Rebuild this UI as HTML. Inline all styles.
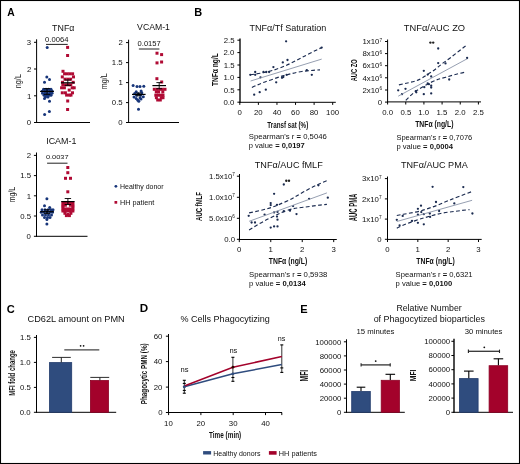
<!DOCTYPE html>
<html><head><meta charset="utf-8"><style>
html,body{margin:0;padding:0;background:#fff;}
body{width:520px;height:464px;overflow:hidden;}
svg{display:block;font-family:"Liberation Sans", sans-serif;will-change:transform;}
</style></head><body>
<svg width="520" height="464" viewBox="0 0 520 464" fill="#111">
<rect x="0" y="0" width="520" height="464" fill="#fff"/>
<text x="7.19" y="16.10" font-size="10.71" textLength="7.43" lengthAdjust="spacingAndGlyphs" font-weight="bold" fill="#000">A</text>
<text x="52.12" y="30.60" font-size="9.57" textLength="22.27" lengthAdjust="spacingAndGlyphs">TNF&#945;</text>
<text x="137.10" y="29.90" font-size="8.86" textLength="32.81" lengthAdjust="spacingAndGlyphs">VCAM-1</text>
<text x="46.21" y="143.90" font-size="9.14" textLength="30.23" lengthAdjust="spacingAndGlyphs">ICAM-1</text>
<line x1="36.6" y1="39.3" x2="36.6" y2="123.0" stroke="#000" stroke-width="1.0"/>
<line x1="34.0" y1="42.3" x2="36.6" y2="42.3" stroke="#000" stroke-width="1.0"/>
<text x="26.84" y="45.03" font-size="7.80">3</text>
<line x1="34.0" y1="69.0" x2="36.6" y2="69.0" stroke="#000" stroke-width="1.0"/>
<text x="27.00" y="71.73" font-size="7.80">2</text>
<line x1="34.0" y1="95.8" x2="36.6" y2="95.8" stroke="#000" stroke-width="1.0"/>
<text x="27.00" y="98.53" font-size="7.80">1</text>
<line x1="34.0" y1="122.5" x2="36.6" y2="122.5" stroke="#000" stroke-width="1.0"/>
<text x="26.84" y="125.23" font-size="7.80">0</text>
<line x1="36.1" y1="122.5" x2="90" y2="122.5" stroke="#000" stroke-width="1.0"/>
<text x="21.00" y="88.34" font-size="9.88" textLength="14.34" lengthAdjust="spacingAndGlyphs" transform="rotate(-90 21.00 88.34)">ng/L</text>
<text x="45.10" y="41.80" font-size="6.43" textLength="23.30" lengthAdjust="spacingAndGlyphs">0.0064</text>
<line x1="46" y1="44.4" x2="67.7" y2="44.4" stroke="#222" stroke-width="1.0"/>
<line x1="128.6" y1="39.7" x2="128.6" y2="123.0" stroke="#000" stroke-width="1.0"/>
<line x1="126.0" y1="42.6" x2="128.6" y2="42.6" stroke="#000" stroke-width="1.0"/>
<text x="118.40" y="45.33" font-size="7.80">2</text>
<line x1="126.0" y1="62.6" x2="128.6" y2="62.6" stroke="#000" stroke-width="1.0"/>
<text x="111.85" y="65.33" font-size="7.80">1.5</text>
<line x1="126.0" y1="82.6" x2="128.6" y2="82.6" stroke="#000" stroke-width="1.0"/>
<text x="118.40" y="85.33" font-size="7.80">1</text>
<line x1="126.0" y1="102.6" x2="128.6" y2="102.6" stroke="#000" stroke-width="1.0"/>
<text x="111.85" y="105.33" font-size="7.80">0.5</text>
<line x1="126.0" y1="122.5" x2="128.6" y2="122.5" stroke="#000" stroke-width="1.0"/>
<text x="118.24" y="125.23" font-size="7.80">0</text>
<line x1="128.1" y1="122.5" x2="179" y2="122.5" stroke="#000" stroke-width="1.0"/>
<text x="106.70" y="89.13" font-size="9.74" textLength="15.84" lengthAdjust="spacingAndGlyphs" transform="rotate(-90 106.70 89.13)">mg/L</text>
<text x="137.60" y="46.40" font-size="6.86" textLength="23.15" lengthAdjust="spacingAndGlyphs">0.0157</text>
<line x1="138.9" y1="49.0" x2="159.4" y2="49.0" stroke="#222" stroke-width="1.0"/>
<line x1="36.5" y1="152.5" x2="36.5" y2="236.8" stroke="#000" stroke-width="1.0"/>
<line x1="33.9" y1="155.4" x2="36.5" y2="155.4" stroke="#000" stroke-width="1.0"/>
<text x="26.70" y="158.13" font-size="7.80">2</text>
<line x1="33.9" y1="175.6" x2="36.5" y2="175.6" stroke="#000" stroke-width="1.0"/>
<text x="20.15" y="178.33" font-size="7.80">1.5</text>
<line x1="33.9" y1="195.8" x2="36.5" y2="195.8" stroke="#000" stroke-width="1.0"/>
<text x="26.70" y="198.53" font-size="7.80">1</text>
<line x1="33.9" y1="216.0" x2="36.5" y2="216.0" stroke="#000" stroke-width="1.0"/>
<text x="20.15" y="218.73" font-size="7.80">0.5</text>
<line x1="33.9" y1="236.3" x2="36.5" y2="236.3" stroke="#000" stroke-width="1.0"/>
<text x="26.54" y="239.03" font-size="7.80">0</text>
<line x1="36.0" y1="236.3" x2="87.5" y2="236.3" stroke="#000" stroke-width="1.0"/>
<text x="14.70" y="202.32" font-size="9.45" textLength="15.42" lengthAdjust="spacingAndGlyphs" transform="rotate(-90 14.70 202.32)">mg/L</text>
<text x="45.90" y="158.60" font-size="6.14" textLength="22.63" lengthAdjust="spacingAndGlyphs">0.0037</text>
<line x1="47.1" y1="163.2" x2="67.5" y2="163.2" stroke="#222" stroke-width="1.0"/>
<circle cx="115.90" cy="186.30" r="1.4" fill="#17357a"/>
<text x="120.04" y="189.20" font-size="7.70" textLength="43.50" lengthAdjust="spacingAndGlyphs">Healthy donor</text>
<rect x="114.50" y="201.00" width="2.70" height="2.70" fill="#b00a34"/>
<text x="120.02" y="205.00" font-size="7.70" textLength="34.21" lengthAdjust="spacingAndGlyphs">HH patient</text>
<circle cx="47.20" cy="47.40" r="1.5" fill="#17357a"/>
<circle cx="46.80" cy="76.90" r="1.5" fill="#17357a"/>
<circle cx="49.50" cy="79.60" r="1.5" fill="#17357a"/>
<circle cx="44.50" cy="82.30" r="1.5" fill="#17357a"/>
<circle cx="44.50" cy="98.50" r="1.5" fill="#17357a"/>
<circle cx="49.50" cy="101.20" r="1.5" fill="#17357a"/>
<circle cx="49.40" cy="111.60" r="1.5" fill="#17357a"/>
<circle cx="44.60" cy="114.50" r="1.5" fill="#17357a"/>
<circle cx="43.50" cy="89.20" r="1.5" fill="#17357a"/>
<circle cx="46.00" cy="89.20" r="1.5" fill="#17357a"/>
<circle cx="48.50" cy="89.20" r="1.5" fill="#17357a"/>
<circle cx="51.00" cy="89.20" r="1.5" fill="#17357a"/>
<circle cx="42.20" cy="91.20" r="1.5" fill="#17357a"/>
<circle cx="44.70" cy="91.20" r="1.5" fill="#17357a"/>
<circle cx="47.20" cy="91.20" r="1.5" fill="#17357a"/>
<circle cx="49.70" cy="91.20" r="1.5" fill="#17357a"/>
<circle cx="52.20" cy="91.20" r="1.5" fill="#17357a"/>
<circle cx="42.50" cy="93.30" r="1.5" fill="#17357a"/>
<circle cx="45.00" cy="93.30" r="1.5" fill="#17357a"/>
<circle cx="47.50" cy="93.30" r="1.5" fill="#17357a"/>
<circle cx="50.00" cy="93.30" r="1.5" fill="#17357a"/>
<circle cx="52.00" cy="93.30" r="1.5" fill="#17357a"/>
<circle cx="44.00" cy="95.30" r="1.5" fill="#17357a"/>
<circle cx="46.50" cy="95.30" r="1.5" fill="#17357a"/>
<circle cx="49.00" cy="95.30" r="1.5" fill="#17357a"/>
<circle cx="51.00" cy="95.30" r="1.5" fill="#17357a"/>
<circle cx="45.50" cy="97.00" r="1.5" fill="#17357a"/>
<circle cx="48.00" cy="97.00" r="1.5" fill="#17357a"/>
<line x1="40.1" y1="91.4" x2="53.9" y2="91.4" stroke="#000" stroke-width="1.2"/>
<line x1="47" y1="88.6" x2="47" y2="94.4" stroke="#000" stroke-width="0.9"/>
<line x1="43.8" y1="88.6" x2="50.2" y2="88.6" stroke="#000" stroke-width="0.9"/>
<line x1="43.8" y1="94.4" x2="50.2" y2="94.4" stroke="#000" stroke-width="0.9"/>
<rect x="66.10" y="45.90" width="3.00" height="3.00" fill="#b00a34"/>
<rect x="66.10" y="54.00" width="3.00" height="3.00" fill="#b00a34"/>
<rect x="61.50" y="69.80" width="3.00" height="3.00" fill="#b00a34"/>
<rect x="66.20" y="99.50" width="3.00" height="3.00" fill="#b00a34"/>
<rect x="66.10" y="108.00" width="3.00" height="3.00" fill="#b00a34"/>
<rect x="63.10" y="72.30" width="3.00" height="3.00" fill="#b00a34"/>
<rect x="65.70" y="72.30" width="3.00" height="3.00" fill="#b00a34"/>
<rect x="68.30" y="72.30" width="3.00" height="3.00" fill="#b00a34"/>
<rect x="71.10" y="72.30" width="3.00" height="3.00" fill="#b00a34"/>
<rect x="60.80" y="75.40" width="3.00" height="3.00" fill="#b00a34"/>
<rect x="72.00" y="75.40" width="3.00" height="3.00" fill="#b00a34"/>
<rect x="63.50" y="77.70" width="3.00" height="3.00" fill="#b00a34"/>
<rect x="66.30" y="77.70" width="3.00" height="3.00" fill="#b00a34"/>
<rect x="69.10" y="77.70" width="3.00" height="3.00" fill="#b00a34"/>
<rect x="61.00" y="80.80" width="3.00" height="3.00" fill="#b00a34"/>
<rect x="71.70" y="80.80" width="3.00" height="3.00" fill="#b00a34"/>
<rect x="61.30" y="83.30" width="3.00" height="3.00" fill="#b00a34"/>
<rect x="64.10" y="83.30" width="3.00" height="3.00" fill="#b00a34"/>
<rect x="66.90" y="83.30" width="3.00" height="3.00" fill="#b00a34"/>
<rect x="69.30" y="83.30" width="3.00" height="3.00" fill="#b00a34"/>
<rect x="60.10" y="86.30" width="3.00" height="3.00" fill="#b00a34"/>
<rect x="62.90" y="86.30" width="3.00" height="3.00" fill="#b00a34"/>
<rect x="70.70" y="86.30" width="3.00" height="3.00" fill="#b00a34"/>
<rect x="72.70" y="86.30" width="3.00" height="3.00" fill="#b00a34"/>
<rect x="67.70" y="88.60" width="3.00" height="3.00" fill="#b00a34"/>
<rect x="60.80" y="91.30" width="3.00" height="3.00" fill="#b00a34"/>
<rect x="63.90" y="91.30" width="3.00" height="3.00" fill="#b00a34"/>
<rect x="71.00" y="91.30" width="3.00" height="3.00" fill="#b00a34"/>
<rect x="65.10" y="93.60" width="3.00" height="3.00" fill="#b00a34"/>
<rect x="67.90" y="93.60" width="3.00" height="3.00" fill="#b00a34"/>
<rect x="69.50" y="93.60" width="3.00" height="3.00" fill="#b00a34"/>
<line x1="60.9" y1="82.8" x2="74.7" y2="82.8" stroke="#000" stroke-width="1.2"/>
<line x1="67.8" y1="80" x2="67.8" y2="85.4" stroke="#000" stroke-width="0.9"/>
<line x1="64.6" y1="80" x2="71.0" y2="80" stroke="#000" stroke-width="0.9"/>
<line x1="64.6" y1="85.4" x2="71.0" y2="85.4" stroke="#000" stroke-width="0.9"/>
<circle cx="133.10" cy="85.40" r="1.5" fill="#17357a"/>
<circle cx="137.00" cy="86.50" r="1.5" fill="#17357a"/>
<circle cx="140.00" cy="86.50" r="1.5" fill="#17357a"/>
<circle cx="143.80" cy="86.20" r="1.5" fill="#17357a"/>
<circle cx="138.50" cy="109.30" r="1.5" fill="#17357a"/>
<circle cx="136.20" cy="91.70" r="1.5" fill="#17357a"/>
<circle cx="141.10" cy="91.00" r="1.5" fill="#17357a"/>
<circle cx="134.70" cy="93.40" r="1.5" fill="#17357a"/>
<circle cx="138.30" cy="93.80" r="1.5" fill="#17357a"/>
<circle cx="141.80" cy="92.70" r="1.5" fill="#17357a"/>
<circle cx="136.50" cy="95.20" r="1.5" fill="#17357a"/>
<circle cx="140.50" cy="95.30" r="1.5" fill="#17357a"/>
<circle cx="134.00" cy="96.90" r="1.5" fill="#17357a"/>
<circle cx="143.30" cy="96.70" r="1.5" fill="#17357a"/>
<circle cx="140.00" cy="98.00" r="1.5" fill="#17357a"/>
<circle cx="136.20" cy="98.60" r="1.5" fill="#17357a"/>
<circle cx="141.00" cy="99.00" r="1.5" fill="#17357a"/>
<circle cx="137.60" cy="100.00" r="1.5" fill="#17357a"/>
<circle cx="138.80" cy="101.20" r="1.5" fill="#17357a"/>
<line x1="132.0" y1="94.4" x2="145.60000000000002" y2="94.4" stroke="#000" stroke-width="1.2"/>
<line x1="138.8" y1="93.0" x2="138.8" y2="95.8" stroke="#000" stroke-width="0.9"/>
<line x1="136.20000000000002" y1="93.0" x2="141.4" y2="93.0" stroke="#000" stroke-width="0.9"/>
<line x1="136.20000000000002" y1="95.8" x2="141.4" y2="95.8" stroke="#000" stroke-width="0.9"/>
<rect x="155.50" y="51.70" width="3.00" height="3.00" fill="#b00a34"/>
<rect x="160.10" y="53.10" width="3.00" height="3.00" fill="#b00a34"/>
<rect x="155.50" y="61.40" width="3.00" height="3.00" fill="#b00a34"/>
<rect x="160.10" y="60.50" width="3.00" height="3.00" fill="#b00a34"/>
<rect x="155.40" y="77.20" width="3.00" height="3.00" fill="#b00a34"/>
<rect x="160.20" y="80.50" width="3.00" height="3.00" fill="#b00a34"/>
<rect x="152.80" y="87.80" width="3.00" height="3.00" fill="#b00a34"/>
<rect x="155.50" y="87.80" width="3.00" height="3.00" fill="#b00a34"/>
<rect x="158.20" y="87.80" width="3.00" height="3.00" fill="#b00a34"/>
<rect x="160.90" y="87.80" width="3.00" height="3.00" fill="#b00a34"/>
<rect x="163.50" y="87.80" width="3.00" height="3.00" fill="#b00a34"/>
<rect x="154.80" y="90.40" width="3.00" height="3.00" fill="#b00a34"/>
<rect x="157.10" y="90.40" width="3.00" height="3.00" fill="#b00a34"/>
<rect x="161.30" y="90.40" width="3.00" height="3.00" fill="#b00a34"/>
<rect x="154.30" y="93.70" width="3.00" height="3.00" fill="#b00a34"/>
<rect x="157.00" y="93.70" width="3.00" height="3.00" fill="#b00a34"/>
<rect x="159.70" y="93.70" width="3.00" height="3.00" fill="#b00a34"/>
<rect x="161.50" y="93.70" width="3.00" height="3.00" fill="#b00a34"/>
<rect x="154.90" y="96.20" width="3.00" height="3.00" fill="#b00a34"/>
<rect x="159.80" y="96.20" width="3.00" height="3.00" fill="#b00a34"/>
<rect x="161.50" y="96.20" width="3.00" height="3.00" fill="#b00a34"/>
<rect x="156.20" y="98.50" width="3.00" height="3.00" fill="#b00a34"/>
<rect x="158.80" y="98.50" width="3.00" height="3.00" fill="#b00a34"/>
<line x1="152.39999999999998" y1="85.6" x2="166.0" y2="85.6" stroke="#000" stroke-width="1.2"/>
<line x1="159.2" y1="82.6" x2="159.2" y2="88.7" stroke="#000" stroke-width="0.9"/>
<line x1="156.39999999999998" y1="82.6" x2="162.0" y2="82.6" stroke="#000" stroke-width="0.9"/>
<line x1="156.39999999999998" y1="88.7" x2="162.0" y2="88.7" stroke="#000" stroke-width="0.9"/>
<circle cx="46.90" cy="198.80" r="1.5" fill="#17357a"/>
<circle cx="44.50" cy="205.80" r="1.5" fill="#17357a"/>
<circle cx="49.70" cy="207.40" r="1.5" fill="#17357a"/>
<circle cx="46.90" cy="219.50" r="1.5" fill="#17357a"/>
<circle cx="46.90" cy="224.00" r="1.5" fill="#17357a"/>
<circle cx="42.00" cy="209.80" r="1.5" fill="#17357a"/>
<circle cx="45.00" cy="209.80" r="1.5" fill="#17357a"/>
<circle cx="48.00" cy="209.80" r="1.5" fill="#17357a"/>
<circle cx="51.00" cy="209.80" r="1.5" fill="#17357a"/>
<circle cx="53.00" cy="209.80" r="1.5" fill="#17357a"/>
<circle cx="41.20" cy="212.30" r="1.5" fill="#17357a"/>
<circle cx="44.00" cy="212.30" r="1.5" fill="#17357a"/>
<circle cx="47.00" cy="212.30" r="1.5" fill="#17357a"/>
<circle cx="50.00" cy="212.30" r="1.5" fill="#17357a"/>
<circle cx="52.50" cy="212.30" r="1.5" fill="#17357a"/>
<circle cx="42.50" cy="215.00" r="1.5" fill="#17357a"/>
<circle cx="45.50" cy="215.00" r="1.5" fill="#17357a"/>
<circle cx="48.50" cy="215.00" r="1.5" fill="#17357a"/>
<circle cx="51.50" cy="215.00" r="1.5" fill="#17357a"/>
<circle cx="44.50" cy="217.40" r="1.5" fill="#17357a"/>
<circle cx="47.50" cy="217.40" r="1.5" fill="#17357a"/>
<circle cx="50.00" cy="217.40" r="1.5" fill="#17357a"/>
<line x1="40.2" y1="211.7" x2="53.8" y2="211.7" stroke="#000" stroke-width="1.2"/>
<line x1="47" y1="209.8" x2="47" y2="213.6" stroke="#000" stroke-width="0.9"/>
<line x1="44" y1="209.8" x2="50" y2="209.8" stroke="#000" stroke-width="0.9"/>
<line x1="44" y1="213.6" x2="50" y2="213.6" stroke="#000" stroke-width="0.9"/>
<rect x="66.30" y="166.00" width="3.00" height="3.00" fill="#b00a34"/>
<rect x="66.30" y="171.20" width="3.00" height="3.00" fill="#b00a34"/>
<rect x="64.00" y="176.80" width="3.00" height="3.00" fill="#b00a34"/>
<rect x="69.00" y="176.80" width="3.00" height="3.00" fill="#b00a34"/>
<rect x="66.30" y="190.30" width="3.00" height="3.00" fill="#b00a34"/>
<rect x="61.40" y="201.50" width="3.00" height="3.00" fill="#b00a34"/>
<rect x="63.90" y="201.50" width="3.00" height="3.00" fill="#b00a34"/>
<rect x="66.40" y="201.50" width="3.00" height="3.00" fill="#b00a34"/>
<rect x="68.90" y="201.50" width="3.00" height="3.00" fill="#b00a34"/>
<rect x="71.40" y="201.50" width="3.00" height="3.00" fill="#b00a34"/>
<rect x="61.40" y="203.70" width="3.00" height="3.00" fill="#b00a34"/>
<rect x="63.90" y="203.70" width="3.00" height="3.00" fill="#b00a34"/>
<rect x="68.90" y="203.70" width="3.00" height="3.00" fill="#b00a34"/>
<rect x="71.40" y="203.70" width="3.00" height="3.00" fill="#b00a34"/>
<rect x="61.40" y="205.30" width="3.00" height="3.00" fill="#b00a34"/>
<rect x="71.40" y="205.30" width="3.00" height="3.00" fill="#b00a34"/>
<rect x="61.40" y="207.50" width="3.00" height="3.00" fill="#b00a34"/>
<rect x="63.90" y="207.50" width="3.00" height="3.00" fill="#b00a34"/>
<rect x="66.40" y="207.50" width="3.00" height="3.00" fill="#b00a34"/>
<rect x="68.90" y="207.50" width="3.00" height="3.00" fill="#b00a34"/>
<rect x="71.40" y="207.50" width="3.00" height="3.00" fill="#b00a34"/>
<rect x="61.40" y="209.50" width="3.00" height="3.00" fill="#b00a34"/>
<rect x="63.90" y="209.50" width="3.00" height="3.00" fill="#b00a34"/>
<rect x="66.40" y="209.50" width="3.00" height="3.00" fill="#b00a34"/>
<rect x="68.90" y="209.50" width="3.00" height="3.00" fill="#b00a34"/>
<rect x="71.40" y="209.50" width="3.00" height="3.00" fill="#b00a34"/>
<rect x="63.40" y="211.80" width="3.00" height="3.00" fill="#b00a34"/>
<rect x="69.40" y="211.80" width="3.00" height="3.00" fill="#b00a34"/>
<rect x="66.40" y="213.00" width="3.00" height="3.00" fill="#b00a34"/>
<rect x="64.90" y="214.10" width="3.00" height="3.00" fill="#b00a34"/>
<rect x="67.90" y="214.10" width="3.00" height="3.00" fill="#b00a34"/>
<line x1="61.2" y1="201.6" x2="74.60000000000001" y2="201.6" stroke="#000" stroke-width="1.2"/>
<line x1="67.9" y1="198.5" x2="67.9" y2="204.5" stroke="#000" stroke-width="0.9"/>
<line x1="64.7" y1="198.5" x2="71.10000000000001" y2="198.5" stroke="#000" stroke-width="0.9"/>
<line x1="64.7" y1="204.5" x2="71.10000000000001" y2="204.5" stroke="#000" stroke-width="0.9"/>
<text x="194.34" y="16.00" font-size="10.71" textLength="7.92" lengthAdjust="spacingAndGlyphs" font-weight="bold" fill="#000">B</text>
<text x="249.62" y="30.70" font-size="9.17" textLength="76.77" lengthAdjust="spacingAndGlyphs">TNF&#945;/Tf Saturation</text>
<text x="403.81" y="31.00" font-size="9.72" textLength="61.33" lengthAdjust="spacingAndGlyphs">TNF&#945;/AUC ZO</text>
<text x="254.82" y="167.70" font-size="9.03" textLength="67.91" lengthAdjust="spacingAndGlyphs">TNF&#945;/AUC fMLF</text>
<text x="401.02" y="167.50" font-size="9.31" textLength="66.75" lengthAdjust="spacingAndGlyphs">TNF&#945;/AUC PMA</text>
<text x="248.74" y="139.30" font-size="7.41" textLength="78.03" lengthAdjust="spacingAndGlyphs">Spearman's r <tspan font-weight="bold">=</tspan> 0,5046</text>
<text x="248.75" y="148.30" font-size="7.41" textLength="55.98" lengthAdjust="spacingAndGlyphs">p value <tspan font-weight="bold">= 0,0197</tspan></text>
<text x="396.45" y="140.00" font-size="7.41" textLength="75.80" lengthAdjust="spacingAndGlyphs">Spearman's r <tspan font-weight="bold">=</tspan> 0,7076</text>
<text x="396.44" y="149.00" font-size="7.41" textLength="56.58" lengthAdjust="spacingAndGlyphs">p value <tspan font-weight="bold">= 0,0004</tspan></text>
<text x="249.04" y="277.20" font-size="7.41" textLength="78.23" lengthAdjust="spacingAndGlyphs">Spearman's r <tspan font-weight="bold">=</tspan> 0,5938</text>
<text x="249.04" y="286.20" font-size="7.41" textLength="56.78" lengthAdjust="spacingAndGlyphs">p value <tspan font-weight="bold">= 0,0134</tspan></text>
<text x="395.64" y="277.20" font-size="7.41" textLength="76.97" lengthAdjust="spacingAndGlyphs">Spearman's r <tspan font-weight="bold">=</tspan> 0,6321</text>
<text x="395.64" y="286.20" font-size="7.41" textLength="56.59" lengthAdjust="spacingAndGlyphs">p value <tspan font-weight="bold">= 0,0100</tspan></text>
<line x1="240.0" y1="38.5" x2="240.0" y2="102.8" stroke="#2a2a2a" stroke-width="1.6"/>
<line x1="237.4" y1="40.2" x2="240.0" y2="40.2" stroke="#000" stroke-width="1.0"/>
<text x="223.65" y="42.93" font-size="7.80">2.5</text>
<line x1="237.4" y1="52.6" x2="240.0" y2="52.6" stroke="#000" stroke-width="1.0"/>
<text x="223.49" y="55.33" font-size="7.80">2.0</text>
<line x1="237.4" y1="65.0" x2="240.0" y2="65.0" stroke="#000" stroke-width="1.0"/>
<text x="223.65" y="67.73" font-size="7.80">1.5</text>
<line x1="237.4" y1="77.4" x2="240.0" y2="77.4" stroke="#000" stroke-width="1.0"/>
<text x="223.49" y="80.13" font-size="7.80">1.0</text>
<line x1="237.4" y1="89.8" x2="240.0" y2="89.8" stroke="#000" stroke-width="1.0"/>
<text x="223.65" y="92.53" font-size="7.80">0.5</text>
<line x1="237.4" y1="102.2" x2="240.0" y2="102.2" stroke="#000" stroke-width="1.0"/>
<text x="223.49" y="104.93" font-size="7.80">0.0</text>
<line x1="239.5" y1="102.3" x2="335.8" y2="102.3" stroke="#000" stroke-width="1.0"/>
<line x1="239.8" y1="102.3" x2="239.8" y2="104.89999999999999" stroke="#000" stroke-width="1.0"/>
<text x="237.62" y="114.83" font-size="7.80">0</text>
<line x1="258.38" y1="102.3" x2="258.38" y2="104.89999999999999" stroke="#000" stroke-width="1.0"/>
<text x="253.93" y="114.83" font-size="7.80">20</text>
<line x1="276.96000000000004" y1="102.3" x2="276.96000000000004" y2="104.89999999999999" stroke="#000" stroke-width="1.0"/>
<text x="272.67" y="114.83" font-size="7.80">40</text>
<line x1="295.54" y1="102.3" x2="295.54" y2="104.89999999999999" stroke="#000" stroke-width="1.0"/>
<text x="291.09" y="114.83" font-size="7.80">60</text>
<line x1="314.12" y1="102.3" x2="314.12" y2="104.89999999999999" stroke="#000" stroke-width="1.0"/>
<text x="309.75" y="114.83" font-size="7.80">80</text>
<line x1="332.7" y1="102.3" x2="332.7" y2="104.89999999999999" stroke="#000" stroke-width="1.0"/>
<text x="326.07" y="114.83" font-size="7.80">100</text>
<text x="267.27" y="127.60" font-size="9.74" textLength="40.98" lengthAdjust="spacingAndGlyphs" font-weight="bold">Transf sat (%)</text>
<text x="218.00" y="86.03" font-size="9.88" textLength="32.81" lengthAdjust="spacingAndGlyphs" transform="rotate(-90 218.00 86.03)" font-weight="bold">TNF&#945; ng/L</text>
<line x1="387.6" y1="39.5" x2="387.6" y2="102.3" stroke="#000" stroke-width="1.0"/>
<line x1="385.0" y1="41.5" x2="387.6" y2="41.5" stroke="#000" stroke-width="1.0"/>
<text x="362.46" y="44.23" font-size="7.80">1x10<tspan style="font-size:0.6em" dy="-0.55em">7</tspan></text>
<line x1="385.0" y1="53.6" x2="387.6" y2="53.6" stroke="#000" stroke-width="1.0"/>
<text x="362.46" y="56.33" font-size="7.80">8x10<tspan style="font-size:0.6em" dy="-0.55em">6</tspan></text>
<line x1="385.0" y1="65.7" x2="387.6" y2="65.7" stroke="#000" stroke-width="1.0"/>
<text x="362.46" y="68.43" font-size="7.80">6x10<tspan style="font-size:0.6em" dy="-0.55em">6</tspan></text>
<line x1="385.0" y1="77.8" x2="387.6" y2="77.8" stroke="#000" stroke-width="1.0"/>
<text x="362.46" y="80.53" font-size="7.80">4x10<tspan style="font-size:0.6em" dy="-0.55em">6</tspan></text>
<line x1="385.0" y1="90.0" x2="387.6" y2="90.0" stroke="#000" stroke-width="1.0"/>
<text x="362.46" y="92.73" font-size="7.80">2x10<tspan style="font-size:0.6em" dy="-0.55em">6</tspan></text>
<line x1="385.0" y1="102.1" x2="387.6" y2="102.1" stroke="#000" stroke-width="1.0"/>
<text x="377.74" y="104.83" font-size="7.80">0</text>
<line x1="387.1" y1="101.9" x2="481" y2="101.9" stroke="#000" stroke-width="1.0"/>
<line x1="387.6" y1="101.9" x2="387.6" y2="104.5" stroke="#000" stroke-width="1.0"/>
<text x="382.14" y="114.83" font-size="7.80">0.0</text>
<line x1="405.76000000000005" y1="101.9" x2="405.76000000000005" y2="104.5" stroke="#000" stroke-width="1.0"/>
<text x="400.38" y="114.83" font-size="7.80">0.5</text>
<line x1="423.92" y1="101.9" x2="423.92" y2="104.5" stroke="#000" stroke-width="1.0"/>
<text x="418.30" y="114.83" font-size="7.80">1.0</text>
<line x1="442.08000000000004" y1="101.9" x2="442.08000000000004" y2="104.5" stroke="#000" stroke-width="1.0"/>
<text x="436.54" y="114.83" font-size="7.80">1.5</text>
<line x1="460.24" y1="101.9" x2="460.24" y2="104.5" stroke="#000" stroke-width="1.0"/>
<text x="454.70" y="114.83" font-size="7.80">2.0</text>
<line x1="478.40000000000003" y1="101.9" x2="478.40000000000003" y2="104.5" stroke="#000" stroke-width="1.0"/>
<text x="472.94" y="114.83" font-size="7.80">2.5</text>
<text x="415.16" y="127.30" font-size="9.45" textLength="38.30" lengthAdjust="spacingAndGlyphs" font-weight="bold">TNF&#945; (ng/L)</text>
<text x="357.00" y="81.31" font-size="9.16" textLength="21.92" lengthAdjust="spacingAndGlyphs" transform="rotate(-90 357.00 81.31)" font-weight="bold">AUC ZO</text>
<line x1="239.5" y1="174" x2="239.5" y2="240.0" stroke="#000" stroke-width="1.0"/>
<line x1="236.9" y1="176.2" x2="239.5" y2="176.2" stroke="#000" stroke-width="1.0"/>
<text x="208.90" y="178.93" font-size="7.80">1.5x10<tspan style="font-size:0.6em" dy="-0.55em">7</tspan></text>
<line x1="236.9" y1="197.3" x2="239.5" y2="197.3" stroke="#000" stroke-width="1.0"/>
<text x="208.90" y="200.03" font-size="7.80">1.0x10<tspan style="font-size:0.6em" dy="-0.55em">7</tspan></text>
<line x1="236.9" y1="218.3" x2="239.5" y2="218.3" stroke="#000" stroke-width="1.0"/>
<text x="208.90" y="221.03" font-size="7.80">5.0x10<tspan style="font-size:0.6em" dy="-0.55em">6</tspan></text>
<line x1="236.9" y1="239.3" x2="239.5" y2="239.3" stroke="#000" stroke-width="1.0"/>
<text x="224.19" y="242.03" font-size="7.80">0.0</text>
<line x1="239.0" y1="239.5" x2="336.8" y2="239.5" stroke="#000" stroke-width="1.0"/>
<line x1="239.3" y1="239.5" x2="239.3" y2="242.1" stroke="#000" stroke-width="1.0"/>
<text x="237.12" y="252.03" font-size="7.80">0</text>
<line x1="270.77" y1="239.5" x2="270.77" y2="242.1" stroke="#000" stroke-width="1.0"/>
<text x="268.51" y="252.03" font-size="7.80">1</text>
<line x1="302.24" y1="239.5" x2="302.24" y2="242.1" stroke="#000" stroke-width="1.0"/>
<text x="300.06" y="252.03" font-size="7.80">2</text>
<line x1="333.71000000000004" y1="239.5" x2="333.71000000000004" y2="242.1" stroke="#000" stroke-width="1.0"/>
<text x="331.53" y="252.03" font-size="7.80">3</text>
<text x="268.86" y="264.30" font-size="9.45" textLength="38.30" lengthAdjust="spacingAndGlyphs" font-weight="bold">TNF&#945; (ng/L)</text>
<text x="201.80" y="220.92" font-size="9.45" textLength="28.81" lengthAdjust="spacingAndGlyphs" transform="rotate(-90 201.80 220.92)" font-weight="bold">AUC fMLF</text>
<line x1="387.5" y1="176.5" x2="387.5" y2="239.9" stroke="#000" stroke-width="1.0"/>
<line x1="384.9" y1="178.6" x2="387.5" y2="178.6" stroke="#000" stroke-width="1.0"/>
<text x="361.96" y="181.33" font-size="7.80">3x10<tspan style="font-size:0.6em" dy="-0.55em">7</tspan></text>
<line x1="384.9" y1="198.9" x2="387.5" y2="198.9" stroke="#000" stroke-width="1.0"/>
<text x="361.96" y="201.63" font-size="7.80">2x10<tspan style="font-size:0.6em" dy="-0.55em">7</tspan></text>
<line x1="384.9" y1="219.1" x2="387.5" y2="219.1" stroke="#000" stroke-width="1.0"/>
<text x="361.96" y="221.83" font-size="7.80">1x10<tspan style="font-size:0.6em" dy="-0.55em">7</tspan></text>
<line x1="384.9" y1="239.3" x2="387.5" y2="239.3" stroke="#000" stroke-width="1.0"/>
<text x="377.24" y="242.03" font-size="7.80">0</text>
<line x1="387.0" y1="239.4" x2="481.7" y2="239.4" stroke="#000" stroke-width="1.0"/>
<line x1="387.5" y1="239.4" x2="387.5" y2="242.0" stroke="#000" stroke-width="1.0"/>
<text x="385.32" y="252.03" font-size="7.80">0</text>
<line x1="417.83" y1="239.4" x2="417.83" y2="242.0" stroke="#000" stroke-width="1.0"/>
<text x="415.57" y="252.03" font-size="7.80">1</text>
<line x1="448.15999999999997" y1="239.4" x2="448.15999999999997" y2="242.0" stroke="#000" stroke-width="1.0"/>
<text x="445.98" y="252.03" font-size="7.80">2</text>
<line x1="478.49" y1="239.4" x2="478.49" y2="242.0" stroke="#000" stroke-width="1.0"/>
<text x="476.31" y="252.03" font-size="7.80">3</text>
<text x="416.36" y="264.30" font-size="9.45" textLength="38.30" lengthAdjust="spacingAndGlyphs" font-weight="bold">TNF&#945; (ng/L)</text>
<text x="357.10" y="221.22" font-size="10.17" textLength="27.58" lengthAdjust="spacingAndGlyphs" transform="rotate(-90 357.10 221.22)" font-weight="bold">AUC PMA</text>
<circle cx="286.10" cy="41.30" r="1.15" fill="#1b2b50"/>
<circle cx="321.70" cy="47.60" r="1.15" fill="#1b2b50"/>
<circle cx="282.80" cy="62.40" r="1.15" fill="#1b2b50"/>
<circle cx="287.50" cy="60.00" r="1.15" fill="#1b2b50"/>
<circle cx="273.40" cy="67.10" r="1.15" fill="#1b2b50"/>
<circle cx="250.30" cy="74.80" r="1.15" fill="#1b2b50"/>
<circle cx="255.20" cy="72.00" r="1.15" fill="#1b2b50"/>
<circle cx="255.20" cy="74.80" r="1.15" fill="#1b2b50"/>
<circle cx="260.50" cy="77.30" r="1.15" fill="#1b2b50"/>
<circle cx="263.50" cy="72.00" r="1.15" fill="#1b2b50"/>
<circle cx="266.30" cy="72.00" r="1.15" fill="#1b2b50"/>
<circle cx="269.10" cy="72.00" r="1.15" fill="#1b2b50"/>
<circle cx="283.30" cy="77.00" r="1.15" fill="#1b2b50"/>
<circle cx="286.60" cy="74.80" r="1.15" fill="#1b2b50"/>
<circle cx="276.20" cy="82.30" r="1.15" fill="#1b2b50"/>
<circle cx="306.80" cy="70.20" r="1.15" fill="#1b2b50"/>
<circle cx="311.80" cy="74.80" r="1.15" fill="#1b2b50"/>
<circle cx="254.20" cy="94.70" r="1.15" fill="#1b2b50"/>
<circle cx="259.70" cy="92.20" r="1.15" fill="#1b2b50"/>
<circle cx="265.80" cy="89.70" r="1.15" fill="#1b2b50"/>
<circle cx="282.00" cy="77.80" r="1.15" fill="#1b2b50"/>
<line x1="250.6" y1="81" x2="321.7" y2="59.1" stroke="#8a94a8" stroke-width="0.9"/>
<path d="M250.3,74.8 C260,73.5 265,72.3 268.8,71.5 S280,68 285.3,65.8 S296,60.5 301.9,57.5 S315,50.5 321.7,47.6" stroke="#1b2b50" stroke-width="1.15" fill="none" stroke-dasharray="3.8,2.4"/>
<path d="M251.9,87.6 C258,84.5 263,82.5 268.8,80.6 S280,76.5 285.3,75.2 S296,72.3 301.9,71.5 S314,70.1 320,69.9" stroke="#1b2b50" stroke-width="1.15" fill="none" stroke-dasharray="3.8,2.4"/>
<circle cx="430.40" cy="42.60" r="1.2" fill="#222"/>
<circle cx="433.20" cy="42.60" r="1.2" fill="#222"/>
<circle cx="438.20" cy="48.50" r="1.15" fill="#1b2b50"/>
<circle cx="467.10" cy="58.00" r="1.15" fill="#1b2b50"/>
<circle cx="438.20" cy="63.10" r="1.15" fill="#1b2b50"/>
<circle cx="445.50" cy="63.40" r="1.15" fill="#1b2b50"/>
<circle cx="423.80" cy="70.80" r="1.15" fill="#1b2b50"/>
<circle cx="427.70" cy="74.60" r="1.15" fill="#1b2b50"/>
<circle cx="431.20" cy="76.50" r="1.15" fill="#1b2b50"/>
<circle cx="449.20" cy="79.50" r="1.15" fill="#1b2b50"/>
<circle cx="398.20" cy="90.30" r="1.15" fill="#1b2b50"/>
<circle cx="405.50" cy="88.80" r="1.15" fill="#1b2b50"/>
<circle cx="402.00" cy="94.20" r="1.15" fill="#1b2b50"/>
<circle cx="415.80" cy="91.10" r="1.15" fill="#1b2b50"/>
<circle cx="416.30" cy="92.30" r="1.15" fill="#1b2b50"/>
<circle cx="424.30" cy="87.20" r="1.15" fill="#1b2b50"/>
<circle cx="427.70" cy="83.40" r="1.15" fill="#1b2b50"/>
<circle cx="428.90" cy="84.20" r="1.15" fill="#1b2b50"/>
<circle cx="431.20" cy="85.70" r="1.15" fill="#1b2b50"/>
<circle cx="431.20" cy="87.50" r="1.15" fill="#1b2b50"/>
<circle cx="423.80" cy="94.20" r="1.15" fill="#1b2b50"/>
<circle cx="431.20" cy="93.40" r="1.15" fill="#1b2b50"/>
<line x1="398.2" y1="96.2" x2="467.1" y2="58.8" stroke="#8a94a8" stroke-width="0.9"/>
<path d="M398.9,84.9 C405,83.5 410,82.5 415.1,81.1 S425,76 430.5,72.6 S440,65 445.8,61.1 S460,50 467.1,44.9" stroke="#1b2b50" stroke-width="1.15" fill="none" stroke-dasharray="3.8,2.4"/>
<path d="M405.8,100.3 C409,97 412,94 415.1,91.8 S425,85.5 430.5,82.6 S440,78.8 445.8,77.2 S458,73.5 465.1,72.2" stroke="#1b2b50" stroke-width="1.15" fill="none" stroke-dasharray="3.8,2.4"/>
<circle cx="286.30" cy="180.70" r="1.2" fill="#222"/>
<circle cx="289.00" cy="180.70" r="1.2" fill="#222"/>
<circle cx="283.80" cy="184.50" r="1.15" fill="#1b2b50"/>
<circle cx="318.40" cy="185.30" r="1.15" fill="#1b2b50"/>
<circle cx="274.10" cy="193.80" r="1.15" fill="#1b2b50"/>
<circle cx="327.80" cy="197.70" r="1.15" fill="#1b2b50"/>
<circle cx="309.10" cy="198.80" r="1.15" fill="#1b2b50"/>
<circle cx="270.70" cy="203.10" r="1.15" fill="#1b2b50"/>
<circle cx="270.70" cy="205.10" r="1.15" fill="#1b2b50"/>
<circle cx="277.00" cy="204.80" r="1.15" fill="#1b2b50"/>
<circle cx="293.10" cy="206.10" r="1.15" fill="#1b2b50"/>
<circle cx="248.70" cy="215.80" r="1.15" fill="#1b2b50"/>
<circle cx="264.60" cy="214.60" r="1.15" fill="#1b2b50"/>
<circle cx="274.10" cy="212.40" r="1.15" fill="#1b2b50"/>
<circle cx="277.50" cy="211.90" r="1.15" fill="#1b2b50"/>
<circle cx="283.80" cy="211.20" r="1.15" fill="#1b2b50"/>
<circle cx="290.00" cy="210.70" r="1.15" fill="#1b2b50"/>
<circle cx="296.50" cy="214.10" r="1.15" fill="#1b2b50"/>
<circle cx="277.00" cy="216.60" r="1.15" fill="#1b2b50"/>
<circle cx="277.50" cy="219.70" r="1.15" fill="#1b2b50"/>
<circle cx="251.60" cy="222.50" r="1.15" fill="#1b2b50"/>
<circle cx="255.00" cy="222.50" r="1.15" fill="#1b2b50"/>
<circle cx="270.70" cy="227.60" r="1.15" fill="#1b2b50"/>
<circle cx="274.10" cy="226.40" r="1.15" fill="#1b2b50"/>
<circle cx="277.50" cy="226.40" r="1.15" fill="#1b2b50"/>
<line x1="249.1" y1="221.3" x2="326.9" y2="192.9" stroke="#8a94a8" stroke-width="0.9"/>
<path d="M249.1,212.9 C256,211.5 263,210 269.4,208.1 S280,204 286.3,201.4 S297,195.5 303.2,192.1 S318,184 326.9,180.7" stroke="#1b2b50" stroke-width="1.15" fill="none" stroke-dasharray="3.8,2.4"/>
<path d="M249.1,230.1 C256,225.5 263,221.5 269.4,218.3 S280,213 286.3,210.7 S297,208 303.2,207.3 S318,205 326.9,204.4" stroke="#1b2b50" stroke-width="1.15" fill="none" stroke-dasharray="3.8,2.4"/>
<circle cx="432.60" cy="186.80" r="1.15" fill="#1b2b50"/>
<circle cx="463.30" cy="187.10" r="1.15" fill="#1b2b50"/>
<circle cx="436.00" cy="202.00" r="1.15" fill="#1b2b50"/>
<circle cx="454.30" cy="203.40" r="1.15" fill="#1b2b50"/>
<circle cx="421.00" cy="205.70" r="1.15" fill="#1b2b50"/>
<circle cx="417.90" cy="208.80" r="1.15" fill="#1b2b50"/>
<circle cx="439.10" cy="211.00" r="1.15" fill="#1b2b50"/>
<circle cx="472.40" cy="213.50" r="1.15" fill="#1b2b50"/>
<circle cx="402.70" cy="215.90" r="1.15" fill="#1b2b50"/>
<circle cx="421.30" cy="212.10" r="1.15" fill="#1b2b50"/>
<circle cx="417.90" cy="214.70" r="1.15" fill="#1b2b50"/>
<circle cx="423.80" cy="214.20" r="1.15" fill="#1b2b50"/>
<circle cx="429.80" cy="213.50" r="1.15" fill="#1b2b50"/>
<circle cx="430.10" cy="216.90" r="1.15" fill="#1b2b50"/>
<circle cx="396.80" cy="219.80" r="1.15" fill="#1b2b50"/>
<circle cx="412.00" cy="220.90" r="1.15" fill="#1b2b50"/>
<circle cx="417.90" cy="222.80" r="1.15" fill="#1b2b50"/>
<circle cx="423.80" cy="224.30" r="1.15" fill="#1b2b50"/>
<circle cx="399.60" cy="225.30" r="1.15" fill="#1b2b50"/>
<line x1="396.8" y1="221.5" x2="472.1" y2="200.3" stroke="#8a94a8" stroke-width="0.9"/>
<path d="M396.8,215.5 C403,214.3 409,213.3 415.4,212.1 S427,208.8 432.3,207.1 S443,202.8 449.2,200.3 S464,194.5 472.1,191.5" stroke="#1b2b50" stroke-width="1.15" fill="none" stroke-dasharray="3.8,2.4"/>
<path d="M396.8,228.2 C403,225 409,222.8 415.4,220.6 S427,217 432.3,215.5 S443,212.8 449.2,212.1 S462,210.3 469.5,209.6" stroke="#1b2b50" stroke-width="1.15" fill="none" stroke-dasharray="3.8,2.4"/>
<text x="6.66" y="312.50" font-size="10.43" textLength="8.01" lengthAdjust="spacingAndGlyphs" font-weight="bold" fill="#000">C</text>
<text x="27.55" y="322.30" font-size="9.57" textLength="97.18" lengthAdjust="spacingAndGlyphs">CD62L amount on PMN</text>
<line x1="36.5" y1="335" x2="36.5" y2="412.8" stroke="#000" stroke-width="1.0"/>
<line x1="33.9" y1="337.4" x2="36.5" y2="337.4" stroke="#000" stroke-width="1.0"/>
<text x="19.95" y="340.13" font-size="7.80">1.5</text>
<line x1="33.9" y1="362.4" x2="36.5" y2="362.4" stroke="#000" stroke-width="1.0"/>
<text x="19.79" y="365.13" font-size="7.80">1.0</text>
<line x1="33.9" y1="387.4" x2="36.5" y2="387.4" stroke="#000" stroke-width="1.0"/>
<text x="19.95" y="390.13" font-size="7.80">0.5</text>
<line x1="33.9" y1="412.3" x2="36.5" y2="412.3" stroke="#000" stroke-width="1.0"/>
<text x="19.79" y="415.03" font-size="7.80">0.0</text>
<line x1="36.0" y1="412.3" x2="116.2" y2="412.3" stroke="#000" stroke-width="1.0"/>
<rect x="49.50" y="362.60" width="22.20" height="49.70" fill="#2f4c7e" stroke="#213b6c" stroke-width="0.8"/>
<rect x="90.40" y="380.50" width="18.10" height="31.80" fill="#a3022b" stroke="#8c0024" stroke-width="0.8"/>
<line x1="61.3" y1="357.4" x2="61.3" y2="362.4" stroke="#222" stroke-width="1"/>
<line x1="52.1" y1="357.4" x2="70.8" y2="357.4" stroke="#222" stroke-width="0.95"/>
<line x1="99.9" y1="377.4" x2="99.9" y2="380.4" stroke="#222" stroke-width="1"/>
<line x1="90.3" y1="377.4" x2="109.2" y2="377.4" stroke="#222" stroke-width="0.95"/>
<line x1="64.3" y1="349.8" x2="99.3" y2="349.8" stroke="#444" stroke-width="1.3"/>
<circle cx="80.60" cy="345.80" r="0.85" fill="#111"/>
<circle cx="83.60" cy="345.80" r="0.85" fill="#111"/>
<text x="14.90" y="395.76" font-size="9.30" textLength="45.65" lengthAdjust="spacingAndGlyphs" transform="rotate(-90 14.90 395.76)" font-weight="bold">MFI fold change</text>
<text x="139.80" y="312.30" font-size="10.71" textLength="8.39" lengthAdjust="spacingAndGlyphs" font-weight="bold" fill="#000">D</text>
<text x="180.44" y="322.10" font-size="9.16" textLength="89.43" lengthAdjust="spacingAndGlyphs">% Cells Phagocytizing</text>
<line x1="168.5" y1="334" x2="168.5" y2="413.0" stroke="#000" stroke-width="1.0"/>
<line x1="165.9" y1="336.2" x2="168.5" y2="336.2" stroke="#000" stroke-width="1.0"/>
<text x="153.78" y="338.93" font-size="7.80">60</text>
<line x1="165.9" y1="361.6" x2="168.5" y2="361.6" stroke="#000" stroke-width="1.0"/>
<text x="153.78" y="364.33" font-size="7.80">40</text>
<line x1="165.9" y1="387.1" x2="168.5" y2="387.1" stroke="#000" stroke-width="1.0"/>
<text x="153.78" y="389.83" font-size="7.80">20</text>
<line x1="165.9" y1="412.5" x2="168.5" y2="412.5" stroke="#000" stroke-width="1.0"/>
<text x="158.14" y="415.23" font-size="7.80">0</text>
<line x1="168.0" y1="412.5" x2="282" y2="412.5" stroke="#000" stroke-width="1.0"/>
<line x1="168.6" y1="412.5" x2="168.6" y2="415.1" stroke="#000" stroke-width="1.0"/>
<text x="164.08" y="425.53" font-size="7.80">10</text>
<line x1="200.89999999999998" y1="412.5" x2="200.89999999999998" y2="415.1" stroke="#000" stroke-width="1.0"/>
<text x="196.45" y="425.53" font-size="7.80">20</text>
<line x1="233.2" y1="412.5" x2="233.2" y2="415.1" stroke="#000" stroke-width="1.0"/>
<text x="228.83" y="425.53" font-size="7.80">30</text>
<line x1="265.5" y1="412.5" x2="265.5" y2="415.1" stroke="#000" stroke-width="1.0"/>
<text x="261.21" y="425.53" font-size="7.80">40</text>
<line x1="281.8" y1="412.5" x2="281.8" y2="415.1" stroke="#000" stroke-width="1.0"/>
<text x="209.07" y="437.90" font-size="9.74" textLength="32.10" lengthAdjust="spacingAndGlyphs" font-weight="bold">Time (min)</text>
<text x="147.40" y="404.18" font-size="9.59" textLength="60.78" lengthAdjust="spacingAndGlyphs" transform="rotate(-90 147.40 404.18)" font-weight="bold">Phagocytic PMN (%)</text>
<line x1="184.3" y1="380.3" x2="184.3" y2="393.2" stroke="#333" stroke-width="1"/>
<line x1="182.8" y1="380.3" x2="185.8" y2="380.3" stroke="#000" stroke-width="1.1"/>
<line x1="182.8" y1="383.4" x2="185.8" y2="383.4" stroke="#000" stroke-width="1.1"/>
<line x1="182.8" y1="390.4" x2="185.8" y2="390.4" stroke="#000" stroke-width="1.1"/>
<line x1="182.8" y1="393.2" x2="185.8" y2="393.2" stroke="#000" stroke-width="1.1"/>
<line x1="232.9" y1="357.3" x2="232.9" y2="381.3" stroke="#333" stroke-width="1"/>
<line x1="231.4" y1="357.3" x2="234.4" y2="357.3" stroke="#000" stroke-width="1.1"/>
<line x1="231.4" y1="377.5" x2="234.4" y2="377.5" stroke="#000" stroke-width="1.1"/>
<line x1="231.4" y1="381.3" x2="234.4" y2="381.3" stroke="#000" stroke-width="1.1"/>
<line x1="281.8" y1="344.9" x2="281.8" y2="372.4" stroke="#333" stroke-width="1"/>
<line x1="280.3" y1="344.9" x2="283.3" y2="344.9" stroke="#000" stroke-width="1.1"/>
<line x1="280.3" y1="367.9" x2="283.3" y2="367.9" stroke="#000" stroke-width="1.1"/>
<line x1="280.3" y1="372.4" x2="283.3" y2="372.4" stroke="#000" stroke-width="1.1"/>
<path d="M184.3,386.7 L232.9,373.8 L281.8,364.5" stroke="#2f4c7e" stroke-width="1.5" fill="none"/>
<path d="M184.3,386.0 L232.9,367.2 L281.8,356.6" stroke="#a3022b" stroke-width="1.5" fill="none"/>
<circle cx="232.90" cy="367.20" r="1.4" fill="#300"/>
<circle cx="184.30" cy="386.70" r="1.5" fill="#2f4c7e"/>
<circle cx="232.90" cy="373.80" r="1.3" fill="#2f4c7e"/>
<text x="180.54" y="372.40" font-size="7.78" textLength="8.03" lengthAdjust="spacingAndGlyphs">ns</text>
<text x="229.45" y="352.70" font-size="7.04" textLength="7.92" lengthAdjust="spacingAndGlyphs">ns</text>
<text x="277.77" y="341.20" font-size="7.04" textLength="7.59" lengthAdjust="spacingAndGlyphs">ns</text>
<rect x="203.10" y="451.10" width="8.00" height="3.40" fill="#2f4c7e"/>
<text x="213.24" y="455.50" font-size="7.60" textLength="47.19" lengthAdjust="spacingAndGlyphs">Healthy donors</text>
<rect x="268.90" y="451.10" width="7.70" height="3.60" fill="#a3022b"/>
<text x="278.81" y="455.50" font-size="7.60" textLength="38.21" lengthAdjust="spacingAndGlyphs">HH patients</text>
<text x="300.34" y="312.50" font-size="11.00" textLength="7.39" lengthAdjust="spacingAndGlyphs" font-weight="bold" fill="#000">E</text>
<text x="396.40" y="311.20" font-size="9.59" textLength="65.37" lengthAdjust="spacingAndGlyphs">Relative Number</text>
<text x="373.64" y="321.70" font-size="9.74" textLength="111.44" lengthAdjust="spacingAndGlyphs">of Phagocytized bioparticles</text>
<text x="356.48" y="334.40" font-size="8.06" textLength="37.97" lengthAdjust="spacingAndGlyphs">15 minutes</text>
<text x="464.69" y="333.90" font-size="7.92" textLength="37.75" lengthAdjust="spacingAndGlyphs">30 minutes</text>
<line x1="346.5" y1="339.3" x2="346.5" y2="412.8" stroke="#000" stroke-width="1.0"/>
<line x1="343.9" y1="341.8" x2="346.5" y2="341.8" stroke="#000" stroke-width="1.0"/>
<text x="315.26" y="344.53" font-size="7.80">100000</text>
<line x1="343.9" y1="355.90000000000003" x2="346.5" y2="355.90000000000003" stroke="#000" stroke-width="1.0"/>
<text x="319.63" y="358.63" font-size="7.80">80000</text>
<line x1="343.9" y1="370.0" x2="346.5" y2="370.0" stroke="#000" stroke-width="1.0"/>
<text x="319.63" y="372.73" font-size="7.80">60000</text>
<line x1="343.9" y1="384.1" x2="346.5" y2="384.1" stroke="#000" stroke-width="1.0"/>
<text x="319.63" y="386.83" font-size="7.80">40000</text>
<line x1="343.9" y1="398.2" x2="346.5" y2="398.2" stroke="#000" stroke-width="1.0"/>
<text x="319.63" y="400.93" font-size="7.80">20000</text>
<line x1="343.9" y1="412.3" x2="346.5" y2="412.3" stroke="#000" stroke-width="1.0"/>
<text x="336.94" y="415.03" font-size="7.80">0</text>
<line x1="346.0" y1="412.3" x2="404.8" y2="412.3" stroke="#000" stroke-width="1.0"/>
<rect x="351.70" y="391.50" width="18.60" height="20.80" fill="#2f4c7e" stroke="#213b6c" stroke-width="0.8"/>
<line x1="361.0" y1="387.2" x2="361.0" y2="391.1" stroke="#000" stroke-width="1.1"/>
<line x1="356.7" y1="387.2" x2="365.3" y2="387.2" stroke="#000" stroke-width="1.1"/>
<rect x="381.20" y="380.30" width="18.20" height="32.00" fill="#a3022b" stroke="#8c0024" stroke-width="0.8"/>
<line x1="390.3" y1="374.3" x2="390.3" y2="379.9" stroke="#000" stroke-width="1.1"/>
<line x1="385.5" y1="374.3" x2="395.1" y2="374.3" stroke="#000" stroke-width="1.1"/>
<line x1="361.1" y1="364.9" x2="390.2" y2="364.9" stroke="#333" stroke-width="1.3"/>
<line x1="361.1" y1="363.2" x2="361.1" y2="366.59999999999997" stroke="#222" stroke-width="1.1"/>
<line x1="390.2" y1="363.2" x2="390.2" y2="366.59999999999997" stroke="#222" stroke-width="1.1"/>
<circle cx="375.70" cy="361.10" r="0.9" fill="#111"/>
<text x="308.20" y="381.40" font-size="10.03" textLength="11.62" lengthAdjust="spacingAndGlyphs" transform="rotate(-90 308.20 381.40)" font-weight="bold">MFI</text>
<line x1="454.0" y1="338.8" x2="454.0" y2="412.8" stroke="#3a3a3a" stroke-width="1.8"/>
<line x1="451.4" y1="341.3" x2="454.0" y2="341.3" stroke="#000" stroke-width="1.0"/>
<text x="424.16" y="344.03" font-size="7.80">100000</text>
<line x1="451.4" y1="355.5" x2="454.0" y2="355.5" stroke="#000" stroke-width="1.0"/>
<text x="428.53" y="358.23" font-size="7.80">80000</text>
<line x1="451.4" y1="369.70000000000005" x2="454.0" y2="369.70000000000005" stroke="#000" stroke-width="1.0"/>
<text x="428.53" y="372.43" font-size="7.80">60000</text>
<line x1="451.4" y1="383.90000000000003" x2="454.0" y2="383.90000000000003" stroke="#000" stroke-width="1.0"/>
<text x="428.53" y="386.63" font-size="7.80">40000</text>
<line x1="451.4" y1="398.1" x2="454.0" y2="398.1" stroke="#000" stroke-width="1.0"/>
<text x="428.53" y="400.83" font-size="7.80">20000</text>
<line x1="451.4" y1="412.3" x2="454.0" y2="412.3" stroke="#000" stroke-width="1.0"/>
<text x="445.84" y="415.03" font-size="7.80">0</text>
<line x1="453.5" y1="412.3" x2="513" y2="412.3" stroke="#000" stroke-width="1.0"/>
<rect x="459.50" y="378.60" width="18.60" height="33.70" fill="#2f4c7e" stroke="#213b6c" stroke-width="0.8"/>
<line x1="468.8" y1="371.1" x2="468.8" y2="378.2" stroke="#000" stroke-width="1.1"/>
<line x1="464.0" y1="371.1" x2="473.6" y2="371.1" stroke="#000" stroke-width="1.1"/>
<rect x="489.10" y="365.70" width="18.60" height="46.60" fill="#a3022b" stroke="#8c0024" stroke-width="0.8"/>
<line x1="498.4" y1="358.8" x2="498.4" y2="365.3" stroke="#000" stroke-width="1.1"/>
<line x1="493.59999999999997" y1="358.8" x2="503.2" y2="358.8" stroke="#000" stroke-width="1.1"/>
<line x1="468.4" y1="351.3" x2="499.5" y2="351.3" stroke="#333" stroke-width="1.3"/>
<line x1="468.4" y1="349.6" x2="468.4" y2="353.0" stroke="#222" stroke-width="1.1"/>
<line x1="499.5" y1="349.6" x2="499.5" y2="353.0" stroke="#222" stroke-width="1.1"/>
<circle cx="484.30" cy="347.30" r="0.9" fill="#111"/>
<text x="415.90" y="381.20" font-size="9.88" textLength="11.62" lengthAdjust="spacingAndGlyphs" transform="rotate(-90 415.90 381.20)" font-weight="bold">MFI</text>
<rect x="0.5" y="0.5" width="519" height="463" fill="none" stroke="#000" stroke-width="1.1"/>
</svg>
</body></html>
